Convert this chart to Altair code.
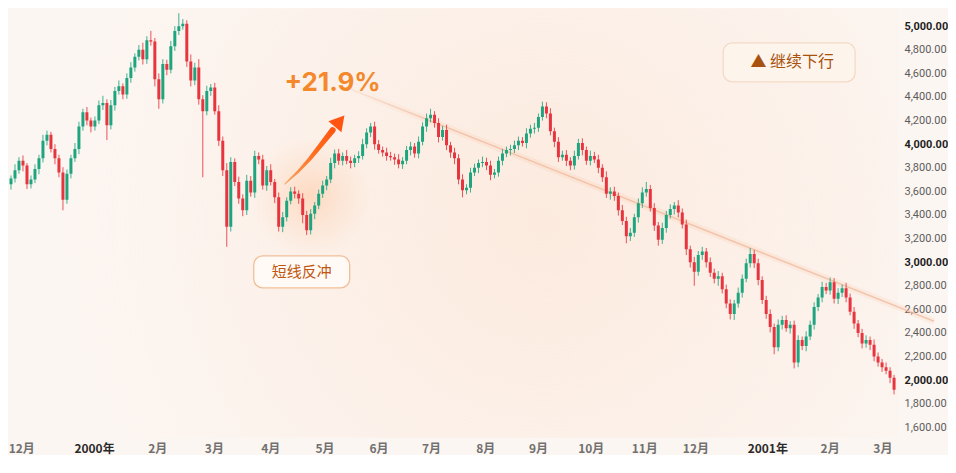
import altair as alt
import pandas as pd

# ---------------- data ----------------
closes = [
    3600, 3660, 3710, 3780, 3860, 3820, 3660, 3700, 3790, 3880, 4030, 4080, 3960, 3880, 3760, 3530,
    3750, 3880, 3960, 4150, 4270, 4200, 4150, 4200, 4330, 4350, 4160, 4330, 4450, 4490, 4420, 4560,
    4650, 4740, 4800, 4720, 4880, 4870, 4550, 4380, 4680, 4630, 4830, 4960, 5000, 5020, 4700, 4540,
    4650, 4380, 4280, 4450, 4480, 4280, 4030, 3780, 3300, 3850, 3680, 3540, 3440, 3690, 3590, 3900,
    3870, 3650, 3780, 3680, 3550, 3300, 3380, 3520, 3600, 3580, 3540, 3400, 3270, 3410, 3480, 3580,
    3650, 3700, 3840, 3920, 3860, 3900, 3860, 3840, 3880, 3900, 4000, 4100, 4150, 4000, 3950, 3930,
    3900, 3890, 3870, 3830, 3860, 3950, 3980, 3920, 4020, 4150, 4220, 4250, 4180, 4060, 4120, 3990,
    3930, 3880, 3700, 3610, 3630, 3760, 3800, 3840, 3850, 3820, 3740, 3760, 3860, 3920, 3950, 3960,
    3990, 4030, 4010, 4090, 4130, 4140, 4230, 4320, 4260, 4110, 4020, 3890, 3910, 3860, 3820, 3900,
    4010, 3950, 3860, 3900, 3870, 3800, 3720, 3580, 3600, 3560, 3440, 3350, 3220, 3250, 3380, 3500,
    3590, 3620, 3460, 3310, 3190, 3290, 3400, 3450, 3480, 3420, 3320, 3110, 3000, 2920, 3060, 3090,
    3000, 2910, 2860, 2880, 2770, 2650, 2560, 2650, 2740, 2860, 2990, 3070, 2990, 2850, 2680, 2560,
    2450, 2280, 2470, 2510, 2440, 2470, 2150, 2340, 2290, 2370, 2470, 2620, 2700, 2790, 2760, 2830,
    2690, 2740, 2780, 2700, 2580, 2480, 2400, 2310, 2340, 2300, 2200, 2150, 2110, 2080, 2020, 1920,
]
first_open = 3650
wick_up = [
    30, 40, 25, 50, 30, 45, 20, 35, 40, 30, 50, 35, 25, 40, 30, 45,
    35, 30, 50, 40, 30, 45, 25, 35, 40, 60, 30, 45, 35, 50, 25, 40,
    45, 30, 40, 60, 35, 80, 30, 50, 40, 35, 45, 40, 110, 40, 30, 60,
    40, 70, 35, 45, 30, 40, 50, 35, 60, 40, 30, 45, 35, 50, 40, 45,
    30, 40, 35, 50, 25, 40, 45, 30, 35, 40, 30, 45, 35, 40, 30, 35,
    40, 30, 45, 35, 40, 30, 50, 35, 30, 40, 45, 35, 30, 40, 35, 30,
    40, 35, 30, 45, 30, 35, 40, 30, 45, 35, 40, 50, 30, 40, 35, 45,
    30, 40, 35, 45, 30, 40, 35, 30, 45, 35, 40, 30, 35, 40, 30, 35,
    40, 35, 30, 45, 35, 40, 30, 40, 35, 45, 30, 40, 35, 40, 30, 45,
    35, 40, 30, 45, 35, 40, 30, 50, 35, 40, 30, 45, 35, 40, 30, 40,
    45, 60, 35, 40, 30, 45, 35, 40, 30, 45, 35, 40, 30, 45, 35, 40,
    30, 40, 35, 45, 30, 40, 35, 30, 45, 35, 40, 50, 35, 40, 30, 35,
    40, 30, 45, 35, 40, 30, 35, 40, 30, 45, 35, 40, 30, 45, 35, 40,
    35, 40, 30, 45, 35, 40, 30, 35, 40, 30, 45, 35, 30, 40, 30, 25,
]
wick_dn = [
    40, 30, 45, 35, 30, 50, 40, 35, 30, 45, 35, 40, 30, 50, 40, 90,
    35, 40, 30, 45, 35, 40, 50, 35, 30, 40, 125, 35, 45, 30, 40, 35,
    40, 35, 30, 45, 40, 35, 60, 80, 35, 45, 30, 40, 35, 30, 45, 50,
    40, 45, 560, 35, 40, 30, 45, 50, 170, 40, 35, 45, 50, 40, 35, 45,
    40, 35, 45, 30, 50, 40, 45, 35, 30, 40, 45, 70, 40, 35, 45, 30,
    35, 40, 30, 45, 35, 40, 30, 45, 35, 40, 30, 35, 40, 45, 30, 35,
    40, 30, 45, 35, 40, 30, 45, 35, 40, 30, 45, 35, 40, 45, 30, 40,
    45, 50, 40, 60, 35, 40, 30, 45, 35, 40, 45, 30, 35, 40, 30, 45,
    35, 40, 30, 45, 35, 40, 35, 30, 40, 35, 45, 40, 30, 45, 40, 35,
    30, 45, 35, 40, 30, 45, 40, 35, 50, 40, 45, 35, 60, 40, 35, 45,
    40, 35, 30, 45, 50, 35, 40, 30, 45, 40, 35, 50, 45, 120, 35, 40,
    45, 35, 40, 60, 35, 40, 45, 50, 35, 40, 30, 35, 40, 45, 35, 40,
    45, 60, 35, 40, 30, 45, 50, 40, 35, 45, 30, 40, 35, 40, 30, 35,
    40, 45, 35, 40, 30, 45, 35, 40, 35, 45, 40, 35, 40, 30, 45, 40,
]

# month tick labels (position in bar index units)
month_pos = [4.7, 22.9, 38.7, 52.9, 67.0, 80.6, 94.1, 107.25, 120.8, 134.0, 147.2, 160.6, 173.4, 191.4, 207.0, 220.2]
month_lbl = ["12月", "2000年", "2月", "3月", "4月", "5月", "6月", "7月", "8月", "9月", "10月", "11月", "12月", "2001年", "2月", "3月"]
month_year = [0, 1, 0, 0, 0, 0, 0, 0, 0, 0, 0, 0, 0, 1, 0, 0]
y_ticks = [1600, 1800, 2000, 2200, 2400, 2600, 2800, 3000, 3200, 3400, 3600, 3800, 4000, 4200, 4400, 4600, 4800, 5000]

# annotations (in chart data units)
trend_i = [85.75, 233.0]
trend_p = [4483, 2500]
arrow_i = [70.5, 73.75, 76.75, 79.75, 82.5]
arrow_p = [3662, 3764, 3874, 4001, 4119]
arrow_w = [1.0, 2.5, 3.8, 5.0, 6.0]
head_i = [84.25]
head_p = [4196]
pct_text = ["+21.9%"]
pct_i = [82.5]
pct_p = [4517]
box1 = dict(i1=62.75, i2=86.75, p1=3053, p2=2782, ti=74.75, tp=2918, text="短线反冲")
box2 = dict(i1=180.25, i2=213.25, p1=4859, p2=4528, ti=197.5, tp=4693, text="▲ 继续下行")

# ---------------- frames ----------------
opens = [first_open] + closes[:-1]
df = pd.DataFrame({"i": list(range(len(closes))), "open": opens, "close": closes})
df["high"] = [max(o, c) + u for o, c, u in zip(opens, closes, wick_up)]
df["low"] = [min(o, c) - d for o, c, d in zip(opens, closes, wick_dn)]

W, H = 890, 430
X0, X1, Y0, Y1 = 1.5, 224, 1512, 5152
xs = alt.Scale(domain=[X0, X1], nice=False, zero=False, padding=0)
ys = alt.Scale(domain=[Y0, Y1], nice=False, zero=False, padding=0)
yax = alt.Axis(
    orient="right", values=y_ticks, format=",.2f", ticks=False, tickSize=0, domain=False, grid=False,
    labelPadding=6, labelFont="Roboto", labelFontSize=11,
    labelColor={"condition": {"test": "datum.value % 1000 === 0", "value": "#1e1e1e"}, "value": "#5c5c5c"},
    labelFontWeight={"condition": {"test": "datum.value % 1000 === 0", "value": "bold"}, "value": "normal"},
    title=None)


def X(f):
    return alt.X(f, scale=xs, axis=None)


def Y(f):
    return alt.Y(f, scale=ys, axis=yax)


GREEN, RED = "#1ea57f", "#e7353f"
cond = alt.condition("datum.close >= datum.open", alt.value(GREEN), alt.value(RED))


def glow(x1, x2, y1, y2, cx, cy, r, rgb, a):
    g = pd.DataFrame({"x1": [x1], "x2": [x2], "y1": [y1], "y2": [y2]})
    grad = alt.RadialGradient(
        gradient="radial", x1=cx, y1=cy, x2=cx, y2=cy, r1=0, r2=r,
        stops=[alt.GradientStop(color=f"rgba({rgb},{a})", offset=0),
               alt.GradientStop(color=f"rgba({rgb},{a*0.45})", offset=0.5),
               alt.GradientStop(color=f"rgba({rgb},0)", offset=1)])
    return alt.Chart(g).mark_rect(fill=grad).encode(
        x=X("x1:Q"), x2="x2:Q", y=Y("y1:Q"), y2="y2:Q")


glow_big = glow(X0, X1, Y0, Y1, 0.6, 0.5, 0.55, "252,222,202", 0.5)
glow_arrow = glow(62, 92, 3080, 4040, 0.5, 0.5, 0.5, "255,170,110", 0.32)

tdf = pd.DataFrame({"i": trend_i, "p": trend_p})
trend_grad_w = alt.LinearGradient(gradient="linear", x1=0, y1=0, x2=1, y2=0, stops=[
    alt.GradientStop(color="rgba(246,175,130,0)", offset=0),
    alt.GradientStop(color="rgba(246,175,130,0.13)", offset=0.15),
    alt.GradientStop(color="rgba(246,175,130,0.13)", offset=1)])
trend_grad = alt.LinearGradient(gradient="linear", x1=0, y1=0, x2=1, y2=0, stops=[
    alt.GradientStop(color="rgba(238,172,140,0.15)", offset=0),
    alt.GradientStop(color="rgba(238,172,140,0.6)", offset=0.15),
    alt.GradientStop(color="rgba(238,172,140,0.6)", offset=1)])
trend_wide = alt.Chart(tdf).mark_line(stroke=trend_grad_w, strokeWidth=7).encode(x=X("i:Q"), y=Y("p:Q"))
trend_thin = alt.Chart(tdf).mark_line(stroke=trend_grad, strokeWidth=1.5).encode(x=X("i:Q"), y=Y("p:Q"))

base = alt.Chart(df)
wicks = base.mark_rule(strokeWidth=1, clip=True, opacity=0.85).encode(
    x=X("i:Q"), y=Y("low:Q"), y2="high:Q", color=cond)
bodies = base.mark_bar(size=3, clip=True).encode(
    x=X("i:Q"), y=Y("open:Q"), y2="close:Q", color=cond)

adf = pd.DataFrame({"i": arrow_i, "p": arrow_p, "w": arrow_w, "o": list(range(len(arrow_i)))})
arrow_grad = alt.LinearGradient(gradient="linear", x1=0, y1=1, x2=1, y2=0, stops=[
    alt.GradientStop(color="#f7a866", offset=0),
    alt.GradientStop(color="#ff6a1c", offset=0.6),
    alt.GradientStop(color="#ff5512", offset=1)])
arrow = alt.Chart(adf).mark_trail(fill=arrow_grad).encode(
    x=X("i:Q"), y=Y("p:Q"), size=alt.Size("w:Q", scale=None, legend=None), order="o:Q")
hdf = pd.DataFrame({"i": head_i, "p": head_p})
head = alt.Chart(hdf).mark_point(shape="triangle-up", filled=True, size=290, angle=40,
                                 color="#ff5512", opacity=1).encode(x=X("i:Q"), y=Y("p:Q"))

pdf = pd.DataFrame({"i": pct_i, "p": pct_p, "t": pct_text})
pct = alt.Chart(pdf).mark_text(font="Inter", fontSize=26, fontWeight="bold", color="#f3892c",
                               align="center", baseline="middle").encode(
    x=X("i:Q"), y=Y("p:Q"), text="t:N")


def box(b, fill, stroke, tcolor, fsize, shadow=False):
    bd = pd.DataFrame([b])
    layers = []
    if shadow:
        layers.append(alt.Chart(bd).mark_rect(cornerRadius=10, fill="#f6c8a6", opacity=0.25,
                                              yOffset=3).encode(
            x=X("i1:Q"), x2="i2:Q", y=Y("p1:Q"), y2="p2:Q"))
    layers.append(alt.Chart(bd).mark_rect(cornerRadius=9, fill=fill, stroke=stroke, strokeWidth=1.3).encode(
        x=X("i1:Q"), x2="i2:Q", y=Y("p1:Q"), y2="p2:Q"))
    layers.append(alt.Chart(bd).mark_text(font="Noto Sans CJK SC", fontSize=fsize, color=tcolor,
                                          align="center", baseline="middle").encode(
        x=X("ti:Q"), y=Y("tp:Q"), text="text:N"))
    return layers


b1 = box(box1, "#fffaf6", "#f2be98", "#c0560f", 15)
b2 = box(box2, "#fdf4ec", "#f4dac6", "#a8520f", 16, shadow=True)

mdf = pd.DataFrame({"i": month_pos, "t": month_lbl, "yr": month_year})
months = alt.Chart(mdf).mark_text(font="Noto Sans CJK SC", fontSize=12, fontWeight="bold",
                                  align="center", baseline="middle").encode(
    x=X("i:Q"), y=alt.value(H + 11), text="t:N",
    color=alt.condition("datum.yr == 1", alt.value("#2a2a2a"), alt.value("#707070")))

chart = alt.layer(
    glow_big, glow_arrow, trend_wide, trend_thin, wicks, bodies, arrow, head, pct,
    *b1, *b2, months
).properties(width=W, height=H, padding=0, background="#fcf6f2").configure_view(
    stroke=None, fill="#fcf6f2")

chart.save("out.html", embed_options={"renderer": "svg", "actions": False})
